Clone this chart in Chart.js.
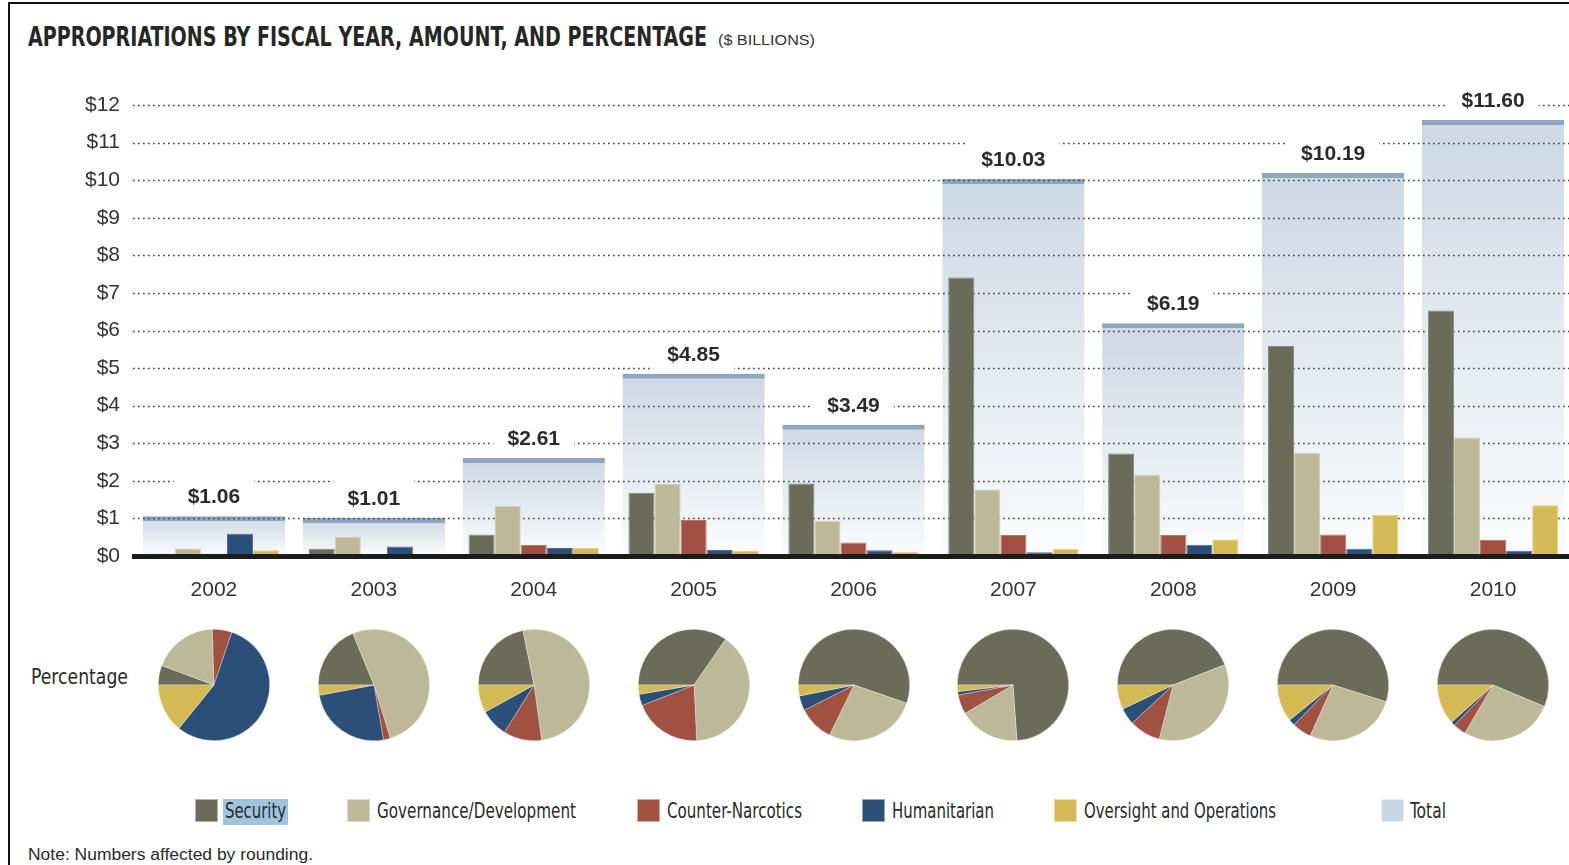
<!DOCTYPE html>
<html><head><meta charset="utf-8">
<script src="https://cdn.jsdelivr.net/npm/chart.js@4.4.1/dist/chart.umd.min.js"></script>
<style>
html,body{margin:0;padding:0;background:#fff;width:1569px;height:865px;overflow:hidden;position:relative;font-family:"Liberation Sans",Arial,sans-serif;color:#2a2a2a;}
.abs{position:absolute;white-space:nowrap;transform-origin:0 50%;}
.narrow{font-family:"Liberation Sans Narrow","DejaVu Sans Condensed","Roboto","Liberation Sans",sans-serif;}
#frameL{position:absolute;left:8px;top:2px;width:2px;height:863px;background:#111;}
#frameT{position:absolute;left:8px;top:2px;width:1561px;height:2px;background:#111;}
#main{position:absolute;left:0;top:0;}
.pie{position:absolute;}
.sw{position:absolute;width:23px;height:23px;top:799px;box-sizing:border-box;border:1px solid rgba(255,255,255,0.5);}
</style></head>
<body>
<div id="frameL"></div><div id="frameT"></div>
<div class="abs narrow" id="title" style="left:28px;top:22px;font-size:27px;line-height:30px;font-weight:bold;color:#262626;" data-w="679">APPROPRIATIONS BY FISCAL YEAR, AMOUNT, AND PERCENTAGE</div>
<div class="abs" id="sub" style="left:718px;top:31px;font-size:14px;line-height:18px;color:#333;" data-w="97">($ BILLIONS)</div>
<canvas id="main" width="1573" height="612"></canvas>
<div class="abs narrow" style="left:31px;top:663px;font-size:22px;line-height:28px;color:#2a2a2a;" data-w="97">Percentage</div>
<div id="legend"></div>
<div class="abs" style="left:28px;top:845px;font-size:16px;line-height:19px;color:#2a2a2a;" data-w="285">Note: Numbers affected by rounding.</div>
<script>
// ---- data ($ billions) ----
const years = ['2002','2003','2004','2005','2006','2007','2008','2009','2010'];
const totals = [1.06, 1.01, 2.61, 4.85, 3.49, 10.03, 6.19, 10.19, 11.60];
const security = [0.06, 0.19, 0.57, 1.68, 1.93, 7.41, 2.73, 5.59, 6.53];
const governance = [0.20, 0.52, 1.33, 1.92, 0.94, 1.77, 2.16, 2.74, 3.15];
const counterNarcotics = [0.06, 0.02, 0.29, 0.96, 0.36, 0.56, 0.56, 0.57, 0.43];
const humanitarian = [0.59, 0.25, 0.21, 0.16, 0.15, 0.10, 0.30, 0.19, 0.14];
const oversight = [0.15, 0.03, 0.21, 0.13, 0.11, 0.19, 0.44, 1.10, 1.35];
const seriesNames = ['Security','Governance/Development','Counter-Narcotics','Humanitarian','Oversight and Operations'];
const totalName = 'Total';
const yMin = 0, yMax = 12, yStep = 1;

const colors = ['#6b6b5a','#bdb898','#a05142','#2b4f78','#d4ba55'];
const edge = ['#87877a','#d3cfb6','#b8766a','#4f6f93','#e4d28a'];
const totalLegendColor = '#c8d7e3';
const totalStripe = '#8ea7bf';

const FONT = '"Liberation Sans", Arial, sans-serif';

function totalFill(c){
  const chart = c.chart;
  if (!chart.chartArea || c.type !== 'data') return '#dce5ee';
  const ys = chart.scales.y;
  const top = ys.getPixelForValue(c.raw);
  const bot = ys.getPixelForValue(0);
  const g = chart.ctx.createLinearGradient(0, top, 0, bot);
  g.addColorStop(0, '#ccd8e4');
  g.addColorStop(0.55, '#e6ecf2');
  g.addColorStop(1, '#fbfcfd');
  return g;
}

const underlay = {
  id: 'underlay',
  afterDatasetDraw(chart, args) {
    if (args.index !== 0) return;
    const ctx = chart.ctx, ys = chart.scales.y, area = chart.chartArea;
    ctx.save();
    ctx.strokeStyle = '#444';
    ctx.lineWidth = 1.7;
    ctx.setLineDash([1.7, 3.3]);
    ys.ticks.forEach(t => {
      if (t.value === yMin) return;
      const y = Math.round(ys.getPixelForValue(t.value)) + 0.5;
      ctx.beginPath(); ctx.moveTo(area.left - 1, y); ctx.lineTo(area.right, y); ctx.stroke();
    });
    ctx.setLineDash([]);
    const meta = chart.getDatasetMeta(0);
    ctx.font = 'bold 21px ' + FONT;
    ctx.textAlign = 'center'; ctx.textBaseline = 'middle';
    meta.data.forEach((el, i) => {
      const txt = '$' + totals[i].toFixed(2);
      const w = ctx.measureText(txt).width + 28;
      ctx.fillStyle = '#ffffff';
      ctx.fillRect(el.x - w/2, el.y - 38, w, 35);
      ctx.fillStyle = '#2b2b2b';
      ctx.fillText(txt, el.x, el.y - 19);
    });
    ctx.restore();
  }
};

const compData = [security, governance, counterNarcotics, humanitarian, oversight];
const datasets = [{
  label: totalName, data: totals, order: 10, grouped: false,
  backgroundColor: totalFill, borderColor: totalStripe,
  borderWidth: {top: 5, left: 0, right: 0, bottom: 0}, borderSkipped: 'start',
  categoryPercentage: 0.89, barPercentage: 1
}];
compData.forEach((d, k) => datasets.push({
  label: seriesNames[k], data: d, order: 1, grouped: true,
  backgroundColor: colors[k], borderColor: edge[k], borderWidth: 1, borderSkipped: 'start',
  categoryPercentage: 0.815, barPercentage: 1
}));

const main = new Chart(document.getElementById('main'), {
  type: 'bar',
  data: { labels: years, datasets },
  options: {
    responsive: false, animation: false,
    layout: { padding: { top: 105, right: 0, bottom: 0, left: 0 } },
    plugins: { legend: { display: false }, tooltip: { enabled: false } },
    scales: {
      x: {
        type: 'category', offset: true,
        grid: { display: false, drawTicks: false },
        border: { display: true, color: '#1c1c1c', width: 5, z: 1 },
        ticks: { font: { size: 21, family: FONT }, color: '#333', padding: 22 },
        afterFit(s) { s.height = 612 - 556; }
      },
      y: {
        min: yMin, max: yMax,
        grid: { display: false, drawTicks: false },
        border: { display: false },
        ticks: { stepSize: yStep, font: { size: 21, family: FONT }, color: '#333', padding: 14,
                 callback: v => '$' + v },
        afterFit(s) { s.width = 134; }
      }
    }
  },
  plugins: [underlay]
});

// ---- pies ----
const pieCY = 685, pieSize = 116;
years.forEach((yr, i) => {
  const cx = main.scales.x.getPixelForValue(i);
  const cv = document.createElement('canvas');
  cv.className = 'pie'; cv.width = pieSize; cv.height = pieSize;
  cv.style.left = (cx - pieSize/2) + 'px'; cv.style.top = (pieCY - pieSize/2) + 'px';
  document.body.appendChild(cv);
  new Chart(cv, {
    type: 'pie',
    data: { labels: seriesNames, datasets: [{
      data: compData.map(d => d[i]), backgroundColor: colors,
      borderColor: 'rgba(255,255,255,0.55)', borderWidth: 0.6
    }]},
    options: { responsive: false, animation: false, rotation: -90,
      layout: { padding: 2 },
      plugins: { legend: { display: false }, tooltip: { enabled: false } } }
  });
});

// ---- legend ----
const legendItems = [
  {name: seriesNames[0], color: colors[0], box: 195, text: 225, w: 61, hl: true},
  {name: seriesNames[1], color: colors[1], box: 347, text: 377, w: 199},
  {name: seriesNames[2], color: colors[2], box: 637, text: 667, w: 135},
  {name: seriesNames[3], color: colors[3], box: 862, text: 892, w: 102},
  {name: seriesNames[4], color: colors[4], box: 1054, text: 1084, w: 192},
  {name: totalName, color: totalLegendColor, box: 1381, text: 1410, w: 36}
];
const lg = document.getElementById('legend');
legendItems.forEach(it => {
  const s = document.createElement('div');
  s.className = 'sw'; s.style.left = it.box + 'px'; s.style.background = it.color;
  lg.appendChild(s);
  if (it.hl) {
    const h = document.createElement('div');
    h.style.cssText = 'position:absolute;left:223px;top:799px;width:65px;height:26px;background:#9fc4e0;';
    lg.appendChild(h);
  }
  const t = document.createElement('div');
  t.className = 'abs narrow';
  t.style.cssText += 'left:' + it.text + 'px;top:797px;font-size:21px;line-height:28px;color:#2a2a2a;';
  t.dataset.w = it.w;
  t.textContent = it.name;
  lg.appendChild(t);
});

// fit text widths
document.querySelectorAll('[data-w]').forEach(el => {
  const w = el.getBoundingClientRect().width;
  if (w > 0) el.style.transform = 'scaleX(' + (parseFloat(el.dataset.w) / w) + ')';
});
</script>
</body></html>
